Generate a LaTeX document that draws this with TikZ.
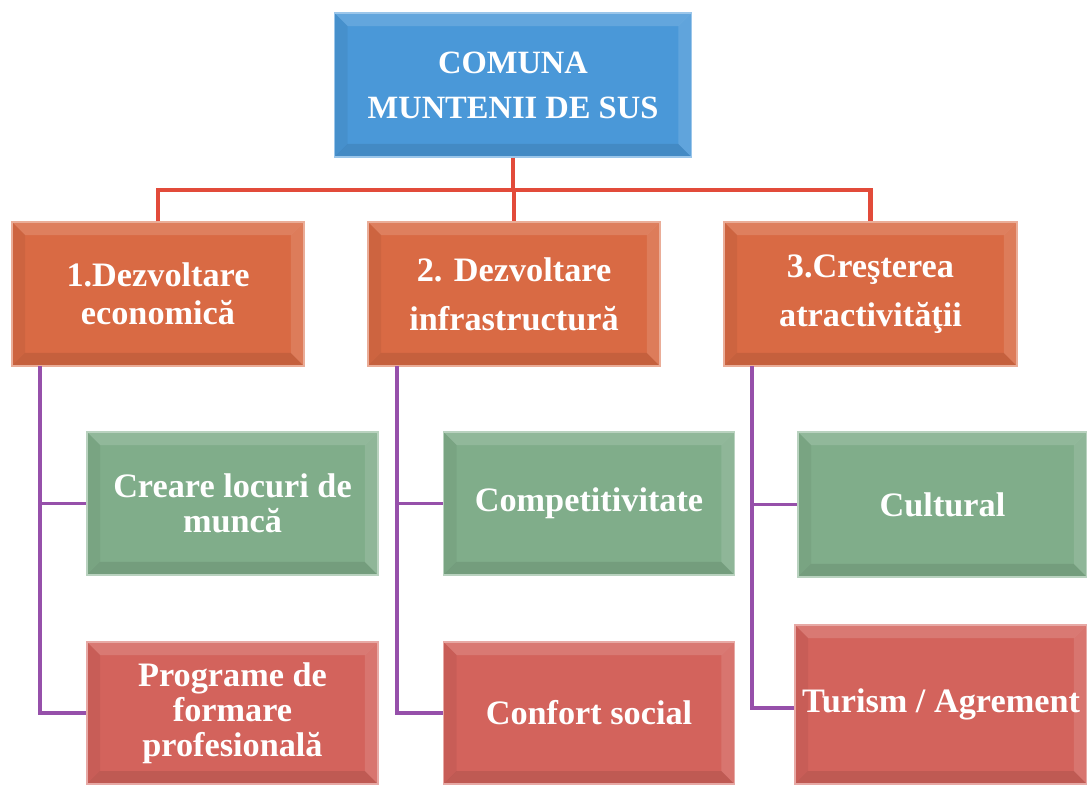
\documentclass[tikz,border=0pt]{standalone}
\usepackage{fontspec}
\setmainfont{Liberation Serif}
\usetikzlibrary{positioning,calc}

\definecolor{topblue}{RGB}{74,152,216}
\definecolor{axisorange}{RGB}{217,106,68}
\definecolor{subgreen}{RGB}{128,173,138}
\definecolor{subred}{RGB}{211,99,92}
\definecolor{linered}{RGB}{226,75,58}
\definecolor{linepurple}{RGB}{150,80,170}

\tikzset{
  bevel/.style={path picture={
      \coordinate (bl) at (path picture bounding box.south west);
      \coordinate (tr) at (path picture bounding box.north east);
      \coordinate (tl) at (bl|-tr);
      \coordinate (br) at (tr|-bl);
      \fill[white,opacity=.14] (tl) -- (tr) -- ($(tr)+(-.26cm,-.26cm)$) -- ($(tl)+(.26cm,-.26cm)$) -- cycle;
      \fill[white,opacity=.12] (tr) -- (br) -- ($(br)+(-.26cm,.26cm)$) -- ($(tr)+(-.26cm,-.26cm)$) -- cycle;
      \fill[black,opacity=.09] (bl) -- (br) -- ($(br)+(-.26cm,.26cm)$) -- ($(bl)+(.26cm,.26cm)$) -- cycle;
      \fill[black,opacity=.05] (tl) -- (bl) -- ($(bl)+(.26cm,.26cm)$) -- ($(tl)+(.26cm,-.26cm)$) -- cycle;
  }},
  box/.style={rectangle, bevel, draw=#1!55!white, line width=.8pt, fill=#1,
      text=white, align=center, inner sep=0pt,
      font=\bfseries\fontsize{19.5}{20}\selectfont},
  topbox/.style={box=topblue, minimum width=7.14cm, minimum height=2.88cm,
      font=\bfseries\fontsize{18.5}{25.5}\selectfont},
  axisbox/.style={box=axisorange, minimum width=5.84cm, minimum height=2.88cm},
  greenbox/.style={box=subgreen, minimum width=5.82cm, minimum height=2.86cm},
  redbox/.style={box=subred, minimum width=5.82cm, minimum height=2.84cm},
  redlink/.style={draw=linered, line width=2.3pt},
  purplelink/.style={draw=linepurple, line width=2pt}
}

\begin{document}
\begin{tikzpicture}[x=0.02cm, y=-0.02cm]
    \useasboundingbox (0,0) rectangle (1087,784);

    % junctions of the connectors
    \coordinate (bus) at (513,190);
    \coordinate (s1) at (40,366);
    \coordinate (s2) at (397,366);
    \coordinate (s3) at (752,366);

    \node[topbox] (top) at (513,85) {COMUNA\\MUNTENII DE SUS};

    \node[axisbox, font=\bfseries\fontsize{19.5}{21.5}\selectfont] (ax1) at (158,294) {1.Dezvoltare\\economică};
    \node[axisbox, font=\bfseries\fontsize{19.5}{28}\selectfont] (ax2) at (514,294) {2. Dezvoltare\\infrastructură};
    \node[axisbox, minimum width=5.86cm, font=\bfseries\fontsize{19.5}{28}\selectfont] (ax3) at (870.5,294) {3.Creşterea\\atractivităţii};

    \node[greenbox] (g1) at (232.5,503.5) {Creare locuri de\\muncă};
    \node[greenbox] (g2) at (589,503.5) {Competitivitate};
    \node[greenbox, minimum width=5.78cm, minimum height=2.9cm] (g3) at (942.5,504.5) {Cultural};

    \node[redbox] (r1) at (232.5,713) {Programe de\\formare\\profesională};
    \node[redbox] (r2) at (589,713) {Confort social};
    \node[redbox, minimum width=5.84cm, minimum height=3.18cm] (r3) at (941,704.5) {Turism / Agrement};

    \path[redlink] (top.south) -- (bus);
    \path[redlink] (ax1.north) |- (bus) -| (ax3.north);
    \path[redlink] (bus) -- (ax2.north |- bus) -- (ax2.north);

    \path[purplelink] (s1) |- (g1.west);
    \path[purplelink] (s1) |- (r1.west);
    \path[purplelink] (s2) |- (g2.west);
    \path[purplelink] (s2) |- (r2.west);
    \path[purplelink] (s3) |- (g3.west);
    \path[purplelink] (s3) |- ($(r3.west)+(0,3.5)$);
\end{tikzpicture}
\end{document}
